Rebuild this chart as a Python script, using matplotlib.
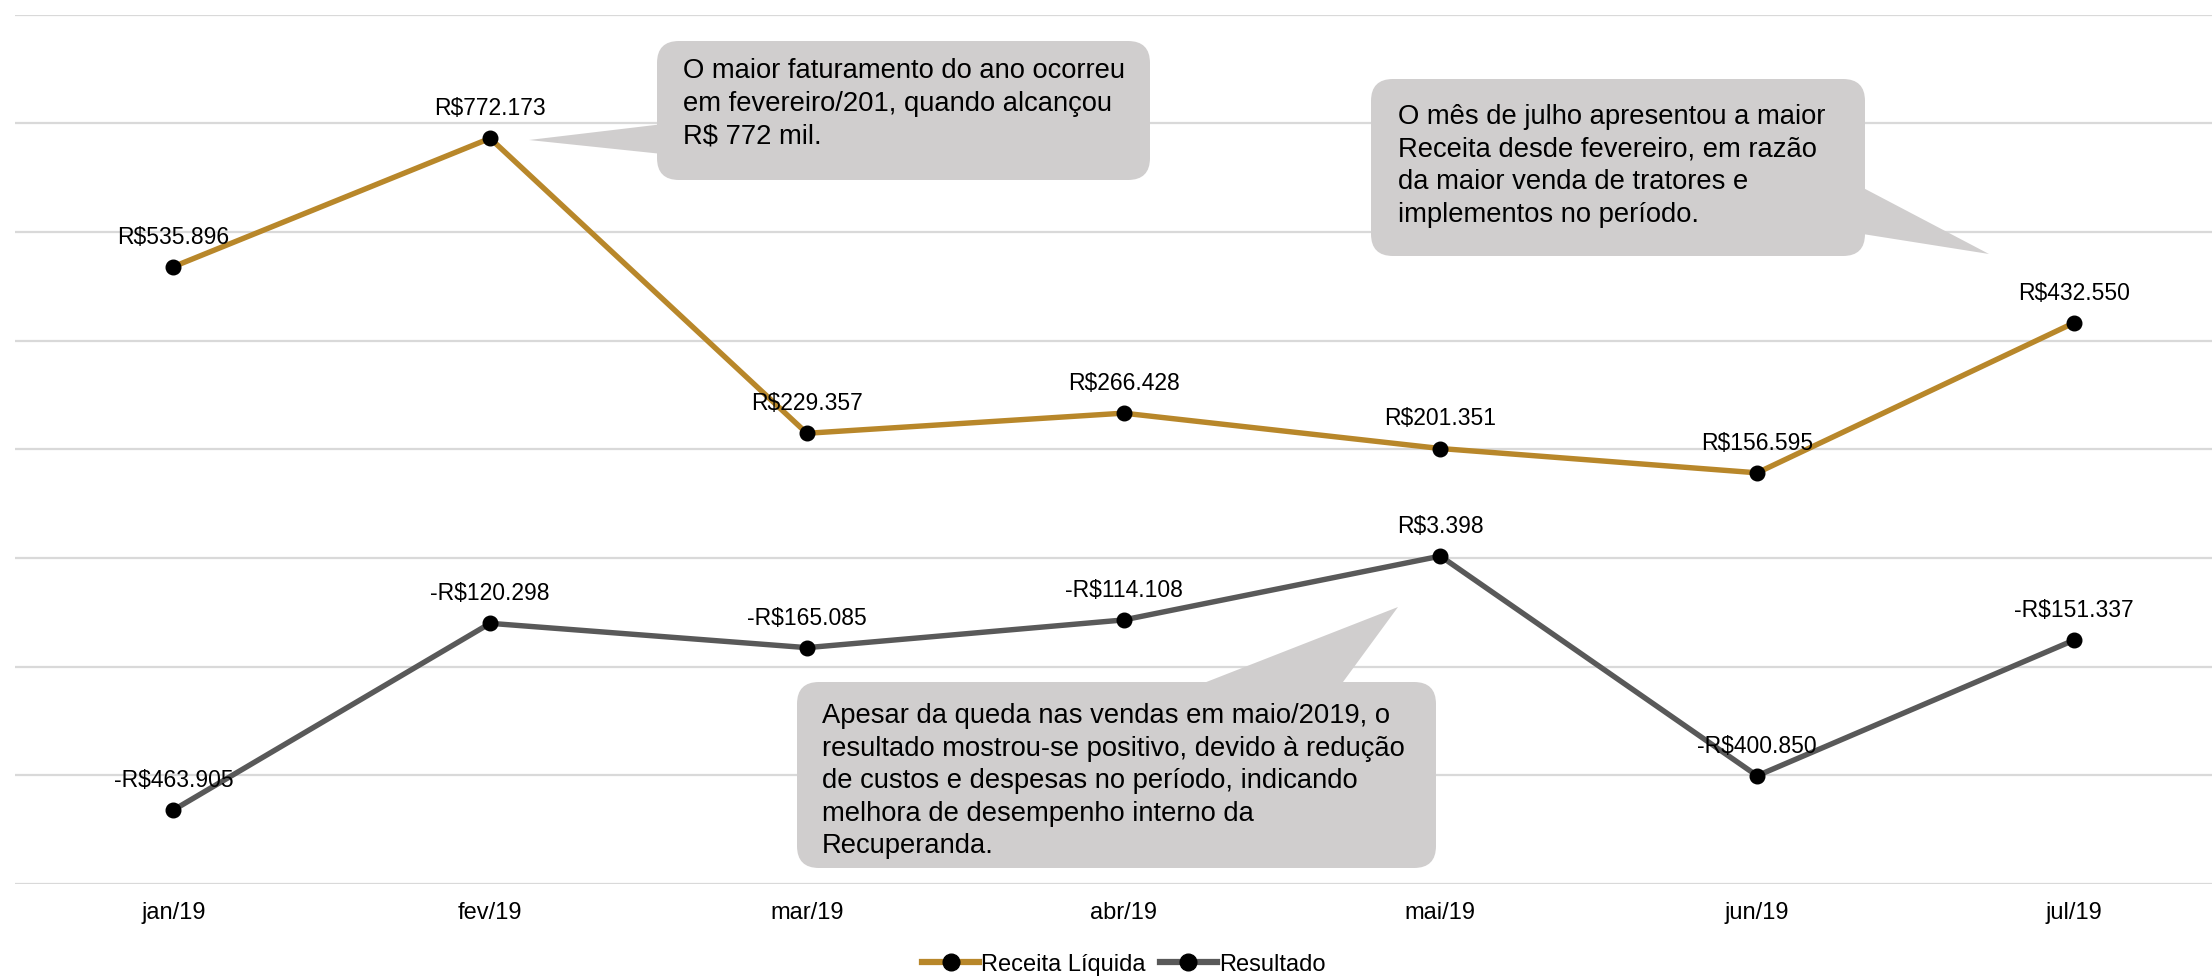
import matplotlib
matplotlib.use("Agg")
import matplotlib.pyplot as plt
from matplotlib.lines import Line2D
from matplotlib.patches import FancyBboxPatch, Polygon

plt.rcParams["font.family"] = ["Liberation Sans", "DejaVu Sans"]

months = ["jan/19", "fev/19", "mar/19", "abr/19", "mai/19", "jun/19", "jul/19"]
receita = [535896, 772173, 229357, 266428, 201351, 156595, 432550]
resultado = [-463905, -120298, -165085, -114108, 3398, -400850, -151337]
series_names = ["Receita Líquida", "Resultado"]

GOLD = "#B8872A"
GRAY = "#595959"
BOX = "#D0CECE"

W, H = 2212, 978


def brl(v):
    s = f"{abs(v):,.0f}".replace(",", ".")
    return ("-R$" if v < 0 else "R$") + s


fig = plt.figure(figsize=(W / 100, H / 100), dpi=100)
ax = fig.add_axes([15 / W, 1 - 885 / H, (W - 15) / W, (885 - 15.5) / H])

x = list(range(len(months)))
for vals, col in ((receita, GOLD), (resultado, GRAY)):
    ax.plot(x, vals, color=col, lw=3.9, zorder=2, solid_capstyle="round")
    ax.plot(x, vals, "o", color="black", ms=10.5, zorder=3)
    for xi, v in zip(x, vals):
        ax.annotate(brl(v), (xi, v), xytext=(0, 22), textcoords="offset points",
                    ha="center", va="center", fontsize=16.5, zorder=4)

ax.set_xlim(-0.5, 6.436)
ax.set_ylim(-600000, 1000000)
ax.set_yticks(range(-600000, 1000001, 200000))
ax.set_yticklabels([])
ax.set_xticks(x)
ax.set_xticklabels(months, fontsize=17)
ax.tick_params(axis="both", length=0)
ax.tick_params(axis="x", pad=12)
ax.grid(axis="y", color="#D9D9D9", lw=1.6, zorder=0)
ax.set_axisbelow(True)
for sp in ax.spines.values():
    sp.set_visible(False)

handles = [Line2D([], [], color=c, lw=4.5, marker="o", ms=12, mfc="black", mec="black")
           for c in (GOLD, GRAY)]
fig.legend(handles, series_names, loc="center", bbox_to_anchor=(1124 / W, 1 - 965 / H),
           ncol=2, frameon=False, fontsize=17, handlelength=2.4, handletextpad=0.1,
           columnspacing=0.6)

# callouts drawn on an overlay in pixel coordinates
ov = fig.add_axes([0, 0, 1, 1], zorder=5)
ov.set_xlim(0, W)
ov.set_ylim(H, 0)
ov.axis("off")


def callout(box, wedge, text, text_xy):
    x0, y0, x1, y1 = box
    ov.add_patch(FancyBboxPatch((x0, y0), x1 - x0, y1 - y0,
                                boxstyle="round,pad=0,rounding_size=22",
                                fc=BOX, ec="none", mutation_aspect=1))
    ov.add_patch(Polygon(wedge, closed=True, fc=BOX, ec="none"))
    ov.text(text_xy[0], text_xy[1], text, ha="left", va="top", fontsize=19.7,
            linespacing=1.33)


callout((657, 42, 1150, 181), [(529, 141), (672, 124), (672, 156)],
        "O maior faturamento do ano ocorreu\nem fevereiro/201, quando alcançou\nR$ 772 mil.",
        (683, 58))
callout((1371, 80, 1865, 257), [(1989, 255), (1850, 182), (1850, 233)],
        "O mês de julho apresentou a maior\nReceita desde fevereiro, em razão\n"
        "da maior venda de tratores e\nimplementos no período.",
        (1398, 104))
callout((797, 683, 1436, 869), [(1398, 608), (1168, 698), (1332, 698)],
        "Apesar da queda nas vendas em maio/2019, o\nresultado mostrou-se positivo, devido à redução\n"
        "de custos e despesas no período, indicando\nmelhora de desempenho interno da\nRecuperanda.",
        (822, 703))

fig.savefig("out.png", dpi=100)
